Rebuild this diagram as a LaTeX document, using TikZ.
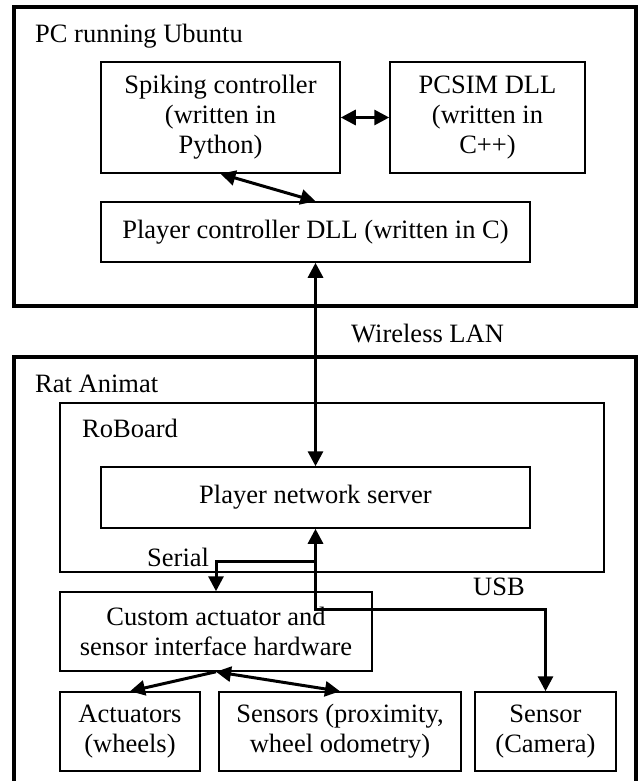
\documentclass[tikz,border=0pt]{standalone}
\usepackage{fontspec}
\setmainfont{Liberation Serif}
\usetikzlibrary{arrows.meta}

\begin{document}
\begin{tikzpicture}[x=1pt, y=-1pt, >={Triangle[width=15pt,length=15pt]},
    blk/.style  = {draw, line width=1.5pt, align=center, inner sep=0pt},
    grp/.style  = {draw, line width=4pt},
    lbl/.style  = {anchor=base west, inner sep=0pt},
    link/.style = {line width=3pt},
    every node/.style = {font=\fontsize{26.5}{30}\selectfont}]
  \useasboundingbox (0,0) rectangle (639,781);

  % PC side
  \draw[grp] (14,7) rectangle (636,306);
  \node[lbl] (pclbl) at (35,43) {PC running Ubuntu};
  \node[blk, minimum width=239pt, minimum height=111pt] (spike) at (220.5,117.5)
       {Spiking controller\\(written in\\Python)};
  \node[blk, minimum width=195pt, minimum height=111pt] (pcsim) at (487.5,117.5)
       {PCSIM DLL\\(written in\\C++)};
  \node[blk, minimum width=429pt, minimum height=60pt] (plydll) at (315.5,232)
       {Player controller DLL (written in C)};

  % robot side
  \draw[grp] (14,357) rectangle (636,790);
  \node[lbl] (ratlbl) at (35,392) {Rat Animat};
  \draw[line width=2pt] (60,403) rectangle (604,572);
  \node[lbl] (rblbl) at (82,437) {RoBoard};
  \node[blk, minimum width=429pt, minimum height=61pt] (netsrv) at (315.5,497.5)
       {Player network server};
  \node[blk, minimum width=312pt, minimum height=79pt] (custom) at (216,631.5)
       {Custom actuator and\\sensor interface hardware};
  \node[blk, minimum width=140pt, minimum height=79pt] (act) at (130,731.5)
       {Actuators\\(wheels)};
  \node[blk, minimum width=242pt, minimum height=79pt] (sens) at (340,731.5)
       {Sensors (proximity,\\wheel odometry)};
  \node[blk, minimum width=141pt, minimum height=79pt] (cam) at (545.5,731.5)
       {Sensor\\(Camera)};

  \node[lbl] (wlan) at (351,342) {Wireless LAN};
  \node[lbl] (serlbl) at (147,566) {Serial};
  \node[lbl] (usblbl) at (473,595) {USB};

  \coordinate (serbend) at (315.5,561);
  \coordinate (usbbend) at (315.5,609);

  \draw[link, <->] (spike) -- (pcsim);
  \draw[link, <->] (spike.south) -- (plydll.north);
  \draw[link, <->] (plydll.south) -- (netsrv.north);
  \draw[link, <->] (netsrv.south) -- (usbbend) -| (cam.north);
  \draw[link, ->] (serbend) -| (custom.north);
  \draw[link, ->] (custom.south) -- (act.north);
  \draw[link, <->] (custom.south) -- (sens.north);
\end{tikzpicture}
\end{document}
